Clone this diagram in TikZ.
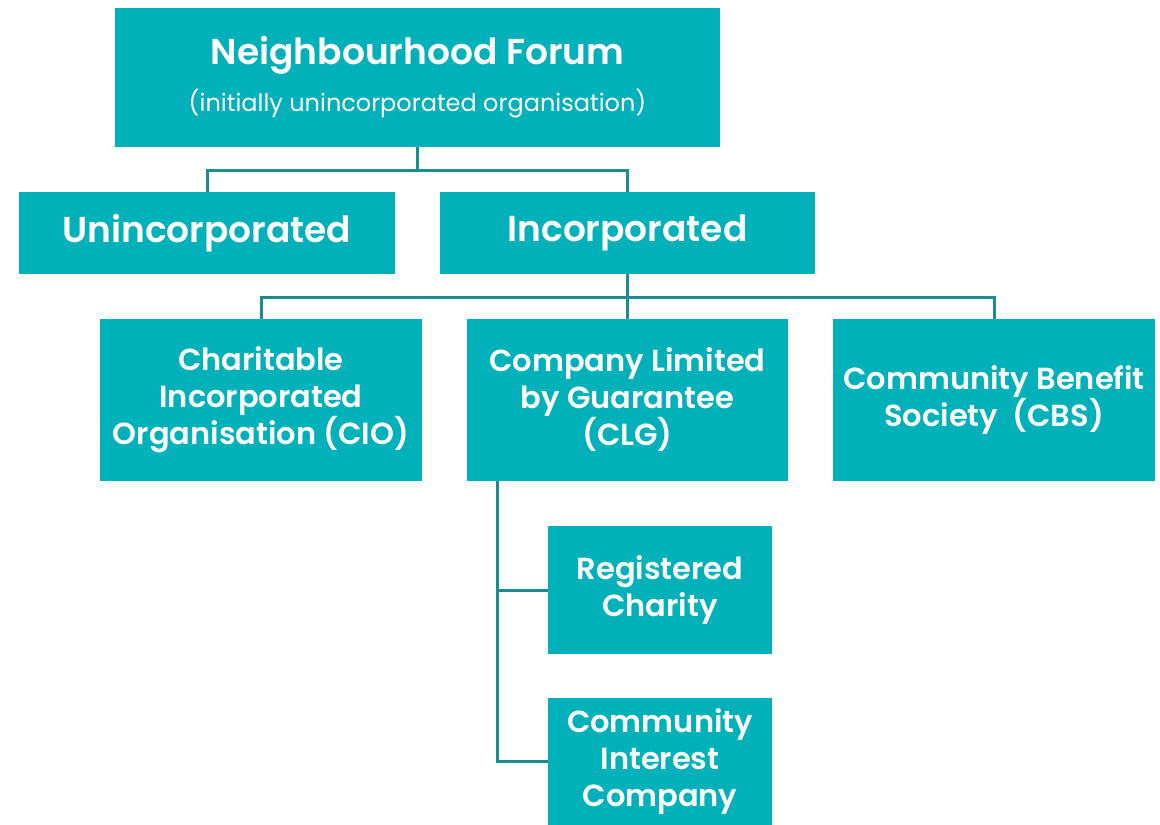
\documentclass[tikz,border=0pt]{standalone}
\usepackage{fontspec}
\setmainfont{Poppins}[BoldFont={Poppins SemiBold}]
\definecolor{teal1}{HTML}{00B1BA}
\definecolor{conncol}{HTML}{1C8C92}
\tikzset{
  box/.style={fill=teal1, draw=none, inner sep=0pt, text=white, align=center, font=\bfseries\fontsize{30.5}{37}\selectfont},
  conn/.style={draw=conncol, line width=3pt}
}
\begin{document}
\begin{tikzpicture}[x=1pt,y=-1pt]
\useasboundingbox (0,0) rectangle (1160,825);
\fill[white] (0,0) rectangle (1160,825);
\node[box, minimum width=605pt, minimum height=139pt] (nf) at (417.5,77.5)
  {{\fontsize{36}{40}\selectfont Neighbourhood Forum}\\[10pt]{\mdseries\fontsize{24}{26}\selectfont (initially unincorporated organisation)}};
\node[box, minimum width=376pt, minimum height=82pt, font=\bfseries\fontsize{36}{40}\selectfont] (un) at (207,233) {Unincorporated};
\node[box, minimum width=375pt, minimum height=82pt, font=\bfseries\fontsize{36}{40}\selectfont] (inc) at (627.5,233) {Incorporated};
\node[box, minimum width=322pt, minimum height=162pt] (cio) at (261,400) {Charitable\\Incorporated\\Organisation (CIO)};
\node[box, minimum width=321pt, minimum height=162pt] (clg) at (627.5,400) {Company Limited\\by Guarantee\\(CLG)};
\node[box, minimum width=322pt, minimum height=162pt] (cbs) at (994,400) {Community Benefit\\Society\ \ (CBS)};
\node[box, minimum width=224pt, minimum height=128pt] (rc) at (660,590) {Registered\\Charity};
\node[box, minimum width=224pt, minimum height=127pt] (cic) at (660,761.5) {Community\\Interest\\Company};
\coordinate (j1) at (417.5,170);
\coordinate (j2) at (627.5,297);
\coordinate (t) at ([xshift=31pt]clg.south west);
\draw[conn] (nf.south) -- (j1);
\draw[conn] (j1) -| (un.north);
\draw[conn] (j1) -| (inc.north);
\draw[conn] (inc.south) -- (j2);
\draw[conn] (j2) -| (cio.north);
\draw[conn] (j2) -- (clg.north);
\draw[conn] (j2) -| (cbs.north);
\draw[conn] (t) |- (rc.west);
\draw[conn] (t) |- (cic.west);
\end{tikzpicture}
\end{document}
